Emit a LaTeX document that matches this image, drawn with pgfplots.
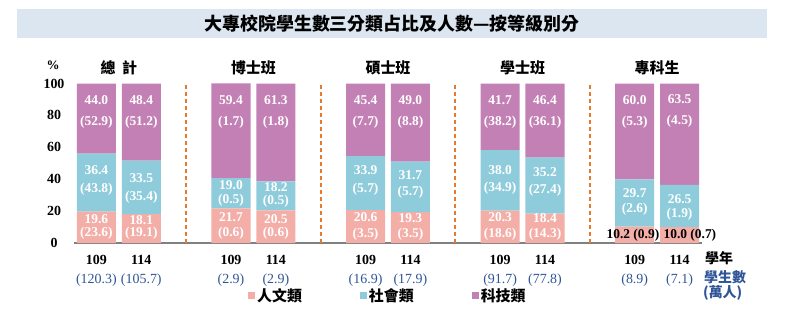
\documentclass[border=0pt]{standalone}
\usepackage{fontspec}
\setmainfont{Liberation Serif}
\newfontfamily\cjk{Noto Sans CJK TC}
\usepackage{pgfplots}
\pgfplotsset{compat=1.18}
\usepackage{pgfplotstable}

\definecolor{hum}{RGB}{244,174,168}
\definecolor{soc}{RGB}{142,204,220}
\definecolor{sci}{RGB}{195,128,180}
\definecolor{cnt}{RGB}{47,85,151}
\definecolor{sepc}{RGB}{228,122,48}
\definecolor{band}{RGB}{220,230,241}
\definecolor{axgray}{RGB}{128,128,128}

% share of students (%) by field; bars at 0,1 | 3,4 | 6,7 | 9,10 | 12,13
\pgfplotstableread{
x  hum  soc  sci
0  19.6 36.4 44.0
1  18.1 33.5 48.4
3  21.7 19.0 59.4
4  20.5 18.2 61.3
6  20.6 33.9 45.4
7  19.3 31.7 49.0
9  20.3 38.0 41.7
10 18.4 35.2 46.4
12 10.2 29.7 60.0
13 10.0 26.5 63.5
}\shares

\newcommand\lab[3]{\node[barlab] at (axis cs:#1,#2) {#3};}

\pgfplotsset{frame/.style={
  at={(74bp,69bp)}, anchor=south west,
  scale only axis, width=628bp, height=159.5bp,
  xmin=-0.5, xmax=13.5, ymin=0, ymax=100, clip=false}}

\begin{document}
\begin{tikzpicture}[x=1bp,y=1bp,
  barlab/.style={text=white, font=\bfseries\fontsize{13.5}{14}\selectfont, inner sep=0pt},
  grp/.style={font=\cjk\bfseries\fontsize{15}{15}\selectfont, inner sep=0pt},
  sepline/.style={sepc, line width=1.8bp, dash pattern=on 4bp off 3bp}]
\path (0,0) rectangle (800,312);
\fill[band] (17,274) rectangle (767,303);
\node[font=\cjk\bfseries\fontsize{18}{18}\selectfont] at (392,288.5) {大專校院學生數三分類占比及人數—按等級別分};
\node[font=\bfseries\fontsize{13}{13}\selectfont] at (53,247) {\%};

\begin{axis}[
  frame,
  ybar stacked, bar width=0.87,
  axis x line*=bottom, axis y line*=left,
  x axis line style={-, draw=axgray, line width=2.5bp},
  y axis line style={draw=none},
  major tick length=0pt,
  ytick={0,20,40,60,80,100},
  /pgf/number format/assume math mode=true,
  yticklabel style={anchor=center, xshift=-20bp, font=\bfseries\fontsize{14}{14}\selectfont},
  xtick={0,1,3,4,6,7,9,10,12,13},
  xticklabel style={anchor=north, inner sep=0pt, yshift=-12bp, align=center,
    font=\fontsize{14}{19.5}\selectfont},
  xticklabels={
    {\textbf{109}\\\textcolor{cnt}{(120.3)}},
    {\textbf{114}\\\textcolor{cnt}{(105.7)}},
    {\textbf{109}\\\textcolor{cnt}{(2.9)}},
    {\textbf{114}\\\textcolor{cnt}{(2.9)}},
    {\textbf{109}\\\textcolor{cnt}{(16.9)}},
    {\textbf{114}\\\textcolor{cnt}{(17.9)}},
    {\textbf{109}\\\textcolor{cnt}{(91.7)}},
    {\textbf{114}\\\textcolor{cnt}{(77.8)}},
    {\textbf{109}\\\textcolor{cnt}{(8.9)}},
    {\textbf{114}\\\textcolor{cnt}{(7.1)}}},
  legend style={at={(0.277,-0.332)}, anchor=west, draw=none, fill=none,
    inner sep=0pt, legend columns=3,
    font=\cjk\bfseries\fontsize{15}{15}\selectfont,
    /tikz/every even column/.append style={column sep=56bp}},
  legend image code/.code={\draw[#1, draw=none] (0bp,-3.5bp) rectangle (7bp,3.5bp);},
]
\addplot[fill=hum, draw=none] table[x=x, y=hum]{\shares};
\addplot[fill=soc, draw=none] table[x=x, y=soc]{\shares};
\addplot[fill=sci, draw=none] table[x=x, y=sci]{\shares};
\legend{人文類, 社會類, 科技類}
\end{axis}

% separators and value labels, on top of the bars
\begin{axis}[frame, hide axis]
\draw[sepline] (axis cs:2,0) -- (axis cs:2,100);
\draw[sepline] (axis cs:5,0) -- (axis cs:5,100);
\draw[sepline] (axis cs:8,0) -- (axis cs:8,100);
\draw[sepline] (axis cs:11,0) -- (axis cs:11,100);

% group titles
\node[grp] at (axis cs:0.5,109.7) {總\hspace{0.45em}計};
\node[grp] at (axis cs:3.5,109.7) {博士班};
\node[grp] at (axis cs:6.5,109.7) {碩士班};
\node[grp] at (axis cs:9.5,109.7) {學士班};
\node[grp] at (axis cs:12.5,109.7) {專科生};

% 科技類
\lab{0}{89.5}{44.0}\lab{0}{75.7}{(52.9)}
\lab{1}{89.5}{48.4}\lab{1}{75.7}{(51.2)}
\lab{3}{89.5}{59.4}\lab{3}{75.7}{(1.7)}
\lab{4}{89.5}{61.3}\lab{4}{75.7}{(1.8)}
\lab{6}{89.5}{45.4}\lab{6}{75.7}{(7.7)}
\lab{7}{89.5}{49.0}\lab{7}{75.7}{(8.8)}
\lab{9}{89.5}{41.7}\lab{9}{75.7}{(38.2)}
\lab{10}{89.5}{46.4}\lab{10}{75.7}{(36.1)}
\lab{12}{89.5}{60.0}\lab{12}{75.7}{(5.3)}
\lab{13}{90.5}{63.5}\lab{13}{76.5}{(4.5)}
% 社會類
\lab{0}{45.5}{36.4}\lab{0}{33.5}{(43.8)}
\lab{1}{40.6}{33.5}\lab{1}{28.8}{(35.4)}
\lab{3}{36.2}{19.0}\lab{3}{26.8}{(0.5)}
\lab{4}{35.0}{18.2}\lab{4}{26.0}{(0.5)}
\lab{6}{45.6}{33.9}\lab{6}{33.5}{(5.7)}
\lab{7}{42.4}{31.7}\lab{7}{32.0}{(5.7)}
\lab{9}{45.6}{38.0}\lab{9}{34.1}{(34.9)}
\lab{10}{44.3}{35.2}\lab{10}{33.0}{(27.4)}
\lab{12}{31.0}{29.7}\lab{12}{21.1}{(2.6)}
\lab{13}{27.8}{26.5}\lab{13}{18.0}{(1.9)}
% 人文類
\lab{0}{14.9}{19.6}\lab{0}{6.1}{(23.6)}
\lab{1}{14.6}{18.1}\lab{1}{5.8}{(19.1)}
\lab{3}{16.3}{21.7}\lab{3}{6.1}{(0.6)}
\lab{4}{14.9}{20.5}\lab{4}{6.0}{(0.6)}
\lab{6}{16.3}{20.6}\lab{6}{5.5}{(3.5)}
\lab{7}{15.5}{19.3}\lab{7}{5.5}{(3.5)}
\lab{9}{16.1}{20.3}\lab{9}{5.5}{(18.6)}
\lab{10}{15.5}{18.4}\lab{10}{5.5}{(14.3)}
\node[barlab, text=black] at (axis cs:11.96,4.8) {10.2 (0.9)};
\node[barlab, text=black] at (axis cs:13.23,4.8) {10.0 (0.7)};
\end{axis}

% row captions at the right end
\node[anchor=west, inner sep=0pt, font=\cjk\bfseries\fontsize{14}{14}\selectfont] at (705,54) {學年};
\node[anchor=west, inner sep=0pt, text=cnt, font=\cjk\bfseries\fontsize{14}{14}\selectfont] at (704,35) {學生數};
\node[anchor=west, inner sep=0pt, text=cnt, font=\cjk\bfseries\fontsize{14}{14}\selectfont] at (703,19.5) {(萬人)};
\end{tikzpicture}
\end{document}
